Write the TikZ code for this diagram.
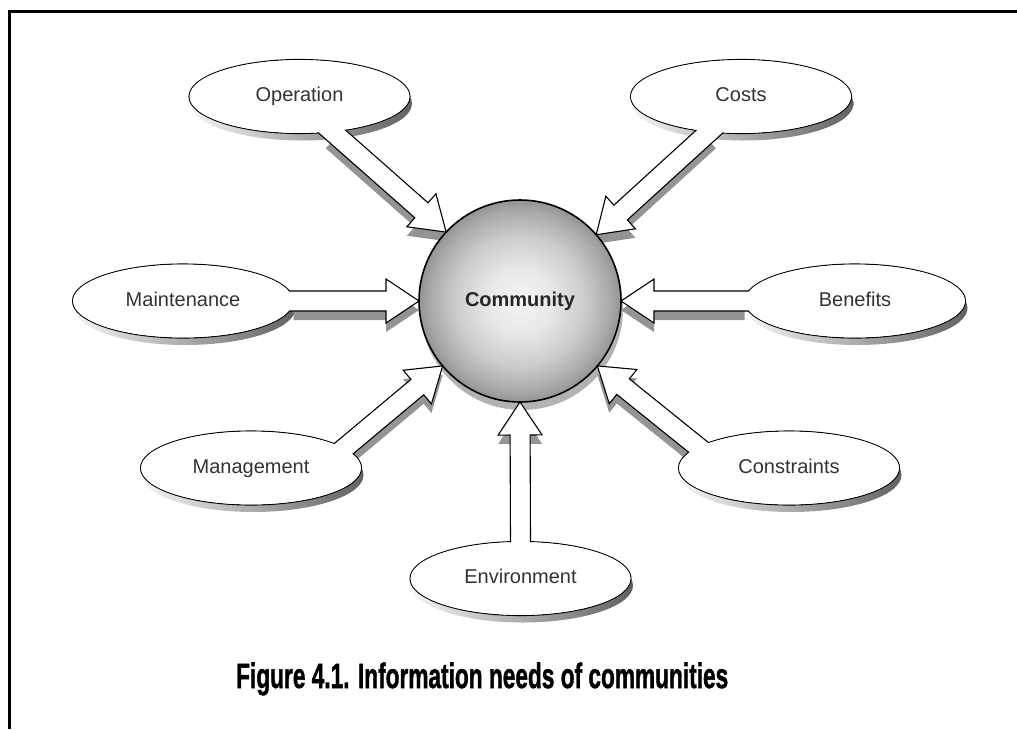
\documentclass[tikz,border=0pt]{standalone}
\usepackage{graphicx}
\usepackage{fontspec}
\setmainfont{Liberation Sans}
\newfontfamily\capfont[BoldFeatures={FakeBold=1.6}]{Liberation Sans}
\usetikzlibrary{calc,shapes.geometric}
\pgfdeclarelayer{eshadow}
\pgfdeclarelayer{ashadow}
\pgfdeclarelayer{base}
\pgfdeclarelayer{arrowlayer}
\pgfdeclarelayer{refill}
\pgfsetlayers{eshadow,ashadow,base,arrowlayer,refill,main}

\pgfdeclareradialshading{sphereshade}{\pgfpoint{0bp}{0bp}}{%
  color(0bp)=(black!4); color(8bp)=(black!9); color(16bp)=(black!20);
  color(22bp)=(black!33); color(25bp)=(black!42); color(50bp)=(black!42)}

\newcommand\blockarrow[2]{%
  \coordinate (aS) at (#1);
  \coordinate (aT) at (#2);
  \coordinate (aB) at ($(aS)!-12pt!(aT)$);
  \coordinate (aH) at ($(aT)!33pt!(aS)$);
  \coordinate (p1) at ($(aB)!10pt!90:(aT)$);
  \coordinate (p2) at ($(aH)!10pt!90:(aT)$);
  \coordinate (p3) at ($(aH)!22pt!90:(aT)$);
  \coordinate (p5) at ($(aH)!22pt!-90:(aT)$);
  \coordinate (p6) at ($(aH)!10pt!-90:(aT)$);
  \coordinate (p7) at ($(aB)!10pt!-90:(aT)$);
  \coordinate (s1) at ($(aS)!10pt!90:(aT)$);
  \coordinate (s7) at ($(aS)!10pt!-90:(aT)$);
  \begin{pgfonlayer}{ashadow}
    \fill[arrowshadow, transform canvas={yshift=-9pt}]
      (s1) -- (p2) -- (p3) -- (aT) -- (p5) -- (p6) -- (s7) -- cycle;
  \end{pgfonlayer}
  \begin{pgfonlayer}{arrowlayer}
    \filldraw[arrowbody]
      (p1) -- (p2) -- (p3) -- (aT) -- (p5) -- (p6) -- (p7);
  \end{pgfonlayer}
}

\begin{document}
\begin{tikzpicture}[x=1pt,y=-1pt,
  bubble/.style={shape=ellipse, minimum width=221pt, minimum height=74pt,
    inner sep=0pt, outer sep=0pt, text=black!80,
    font=\fontsize{20}{24}\selectfont, text height=14.5pt, text depth=4pt},
  hub/.style={shape=circle, minimum size=202pt, inner sep=0pt, outer sep=0pt,
    text=black!85, font=\fontsize{20}{24}\selectfont\bfseries},
  arrowshadow/.style={fill=black!42},
  arrowbody/.style={fill=white, draw=black, line width=1.1pt, line join=miter},
  outline/.style={draw=black, line width=1.1pt},
  frame/.style={line width=3pt}]
\useasboundingbox (0,0) rectangle (1017,729);

% frame
\draw[frame] (9.3,729) -- (9.3,11) -- (1017,11);

% nodes (text)
\node[hub] (comm) at (520,301) {Community};
\node[bubble] (op) at (299.5,96.5) {Operation};
\node[bubble] (co) at (741,96.5) {Costs};
\node[bubble] (mt) at (183,301) {Maintenance};
\node[bubble] (be) at (855,301) {Benefits};
\node[bubble] (mg) at (251,468) {Management};
\node[bubble] (cn) at (789,468) {Constraints};
\node[bubble] (en) at (520.5,578.5) {Environment};

% ellipse shapes
\foreach \n in {op,co,mt,be,mg,cn,en} {
  \begin{pgfonlayer}{eshadow}
    \shade[left color=black!4, right color=black!62]
      ($(\n.center)+(2,7)$) ellipse [x radius=110.5pt, y radius=37pt];
  \end{pgfonlayer}
  \begin{pgfonlayer}{base}
    \draw[outline, fill=white] (\n.center) ellipse [x radius=110.5pt, y radius=37pt];
  \end{pgfonlayer}
  \begin{pgfonlayer}{refill}
    \fill[white] (\n.center) ellipse [x radius=109.9pt, y radius=36.4pt];
  \end{pgfonlayer}
}

% central sphere
\begin{pgfonlayer}{eshadow}
  \fill[black!30] ($(comm.center)+(2,8)$) circle (101pt);
\end{pgfonlayer}
\begin{pgfonlayer}{base}
  \shade[shading=sphereshade] (comm.center) circle (101pt);
  \draw[line width=1.6pt] (comm.center) circle (101pt);
\end{pgfonlayer}

% block arrows
\blockarrow{op.-47}{comm.137.8}
\blockarrow{co.-132.1}{comm.41.4}
\blockarrow{mt.0}{comm.180}
\blockarrow{be.180}{comm.0}
\blockarrow{mg.12.3}{comm.220}
\blockarrow{cn.167.6}{comm.-40}
\blockarrow{en.90}{comm.-90}

% caption
\node[anchor=base west, inner sep=0pt] (cap) at (236,688)
  {\resizebox{492pt}{25.5pt}{\capfont\bfseries Figure 4.1. Information needs of communities}};
\end{tikzpicture}
\end{document}
